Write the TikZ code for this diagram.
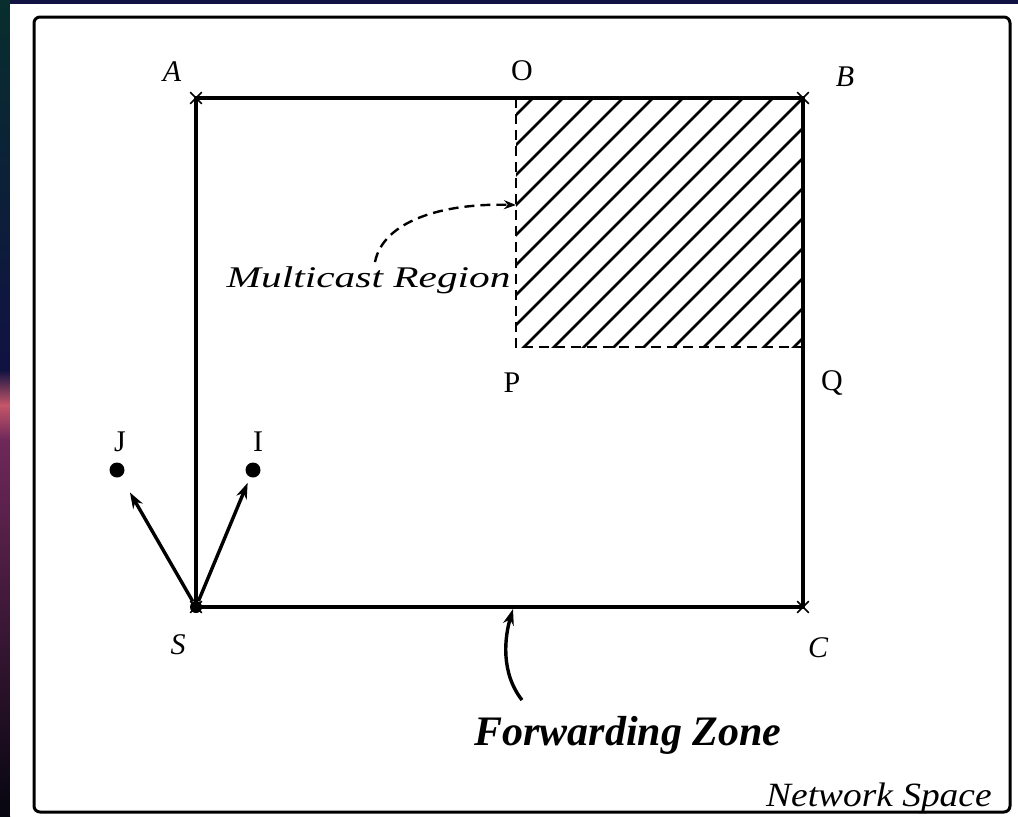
\documentclass[tikz,border=0pt]{standalone}
\usepackage{fontspec}
\setmainfont{Liberation Serif}
\usepackage{graphicx}
\usetikzlibrary{arrows.meta,positioning,shapes.misc}
\definecolor{bgnavy}{RGB}{16,18,66}
\definecolor{bgteal}{RGB}{8,46,46}
\definecolor{bgpink}{RGB}{196,86,104}
\definecolor{bgplum}{RGB}{110,40,90}
\definecolor{bgdark}{RGB}{6,6,16}
\newcommand{\wide}[2]{\scalebox{#1}[1]{#2}}
\tikzset{
  xmark/.style={cross out,draw,line width=0.8pt,minimum size=5pt,inner sep=0pt},
  dot/.style={circle,fill,minimum size=7.5pt,inner sep=0pt},
  lbl/.style={inner sep=0pt,font=\fontsize{15}{18}\selectfont},
  ilbl/.style={inner sep=0pt,font=\fontsize{15}{18}\selectfont\itshape},
  side/.style={line width=1.7pt},
  hatch/.style={line width=1.4pt},
  dsh/.style={line width=1.4pt,dash pattern=on 5pt off 3pt},
  ar/.style={-{Stealth[length=8pt,width=5.5pt]},line width=1.7pt},
}
\begin{document}
\begin{tikzpicture}[x=0.5pt,y=-0.5pt]
  \useasboundingbox (0,0) rectangle (1018,816);
  % backdrop of the slide
  \fill[bgnavy] (0,0) rectangle (1018,816);
  \shade[top color=bgteal,bottom color=bgnavy] (0,0) rectangle (10,370);
  \shade[top color=bgnavy,bottom color=bgpink] (0,370) rectangle (10,405);
  \shade[top color=bgpink,bottom color=bgplum] (0,405) rectangle (10,440);
  \shade[top color=bgplum,bottom color=bgdark] (0,440) rectangle (10,816);
  \fill[white] (10,4) rectangle (1018,816);
  \draw[line width=1.5pt,rounded corners=3pt] (34,17) rectangle (1010,812);

  % corners of the zone
  \node[xmark] (A) at (196,98) {};
  \node[xmark] (B) at (803,98) {};
  \node[xmark] (C) at (803,607) {};
  \node[xmark] (Sx) at (196,607) {};
  \coordinate (O) at (516,98);
  \coordinate (P) at (516,347);
  \coordinate (Q) at (803,347);

  % multicast region
  \begin{scope}
    \clip (O) rectangle (Q);
    \foreach \c in {601,631,...,1171}
      \draw[hatch] (\c-400,400) -- (\c,0);
  \end{scope}
  \draw[dsh] (O) -- (P) -- (Q);
  \draw[side] (A.center) -- (B.center) -- (C.center) -- (Sx.center) -- cycle;

  % source and neighbours
  \node[dot,minimum size=6pt] (S) at (196,607) {};
  \node[dot] (J) at (117,470) {};
  \node[dot] (I) at (253,470) {};
  \draw[ar,shorten >=9pt] (S) -- (J);
  \draw[ar,shorten >=3pt] (S) -- (I);

  % labels
  \node[ilbl] (lA) at (172,72) {A};
  \node[lbl]  (lO) at (522,71) {O};
  \node[ilbl] (lB) at (845,77) {B};
  \node[lbl]  (lP) at (512,383) {P};
  \node[lbl]  (lQ) at (832,383) {Q};
  \node[lbl]  (lJ) at (120,442) {J};
  \node[lbl]  (lI) at (258,442) {I};
  \node[ilbl] (lS) at (178,645) {S};
  \node[ilbl] (lC) at (818,648) {C};

  \node[ilbl,anchor=base east] (mr) at (511,287) {\wide{1.38}{Multicast Region}};
  \coordinate (mrtop) at (375,262);
  \coordinate (mrend) at (516,205);
  \draw[dsh,line width=1.2pt,-{Stealth[length=6pt,width=4.5pt]}] (mrtop) .. controls (383,222) and (440,203) .. (mrend);

  \node[inner sep=0pt,font=\fontsize{21}{25}\selectfont\bfseries\itshape,anchor=base] (fz) at (628,745) {Forwarding Zone};
  \coordinate (fzfoot) at (522,700);
  \coordinate (fzend) at (513,609);
  \draw[ar] (fzfoot) .. controls (500,672) and (505,636) .. (fzend);

  \node[inner sep=0pt,font=\fontsize{17}{20}\selectfont\itshape,anchor=base east] (ns) at (992,806) {\wide{1.1}{Network Space}};
\end{tikzpicture}
\end{document}
